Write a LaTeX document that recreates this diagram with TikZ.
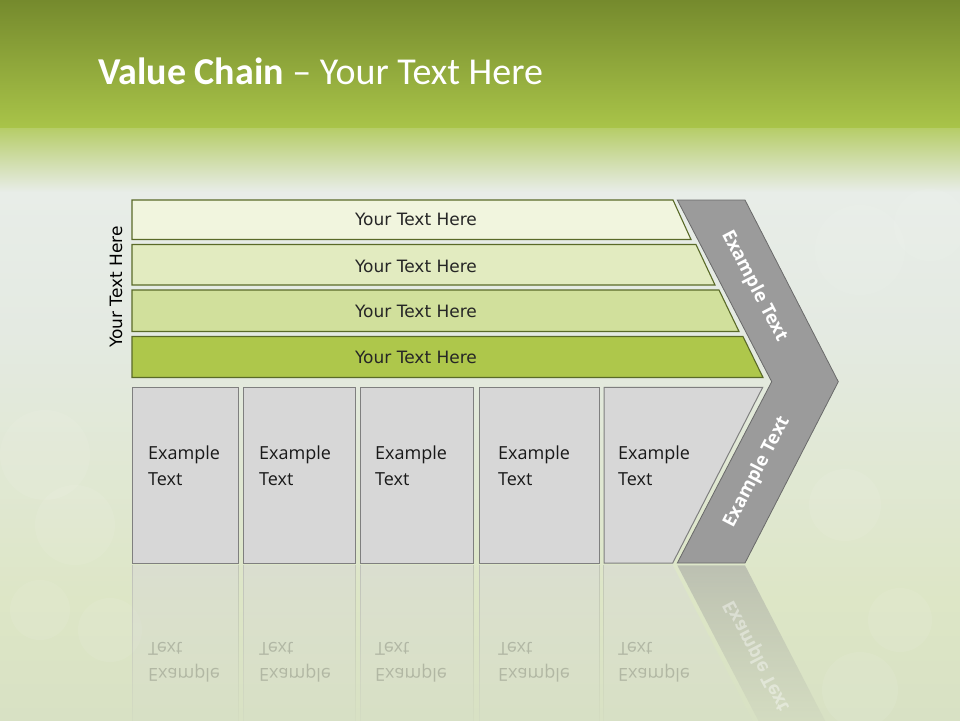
\documentclass[tikz,border=0pt]{standalone}
\usepackage{fontspec}
\newfontfamily\titlefont{Carlito}
\newfontfamily\rowfont{DejaVu Sans}
\newfontfamily\boxfont{Open Sans}
\usetikzlibrary{fadings}
\tikzfading[name=fadedown, top color=transparent!50, bottom color=transparent!100]
\definecolor{bgA}{HTML}{758A2D}
\definecolor{bgB}{HTML}{A9C449}
\definecolor{bgC}{HTML}{B6CD68}
\definecolor{bgD}{HTML}{E8EDE8}
\definecolor{bgE}{HTML}{E4EAE2}
\definecolor{bgF}{HTML}{DDE6C6}
\definecolor{bgG}{HTML}{D8E1C4}
\definecolor{rowA}{HTML}{F1F5DE}
\definecolor{rowB}{HTML}{E2EBC0}
\definecolor{rowC}{HTML}{D1E09C}
\definecolor{rowD}{HTML}{AEC74B}
\definecolor{rowline}{HTML}{5A6A28}
\definecolor{boxfill}{HTML}{D7D7D7}
\definecolor{boxline}{HTML}{7F7F7F}
\definecolor{chevfill}{HTML}{9B9B9B}
\definecolor{chevline}{HTML}{6A6A6A}
\tikzset{
  rowshape/.style={draw=rowline, line width=1.1pt},
  boxshape/.style={draw=boxline, fill=boxfill, line width=1pt},
  chevshape/.style={draw=chevline, fill=chevfill, line width=0.8pt},
  rowtext/.style={font=\rowfont\fontsize{17}{20}\selectfont, text=black!85, inner sep=0pt},
  boxtext/.style={font=\boxfont\fontsize{18}{26}\selectfont, text=black!90, align=left, anchor=west, inner sep=0pt},
  chevtext/.style={font=\boxfont\bfseries\fontsize{18.5}{22}\selectfont, text=white, inner sep=0pt},
  reflbox/.style={fill=boxfill, path fading=fadedown},
  refltext/.style={font=\boxfont\fontsize{18}{26}\selectfont, text=black, opacity=0.18, align=left, anchor=west, inner sep=0pt, yscale=-1},
  bokeh/.style={fill=white, opacity=0.07}
}
\begin{document}
\begin{tikzpicture}[x=1pt,y=-1pt]
\useasboundingbox (0,0) rectangle (960,720);
% background
\fill[top color=bgA, bottom color=bgB] (0,0) rectangle (960,128);
\fill[top color=bgC, bottom color=bgD] (0,128) rectangle (960,192);
\fill[top color=bgD, bottom color=bgE] (0,192) rectangle (960,330);
\fill[top color=bgE, bottom color=bgF] (0,330) rectangle (960,600);
\fill[top color=bgF, bottom color=bgG] (0,600) rectangle (960,720);
\foreach \cx/\cy/\r in {45/455/45, 75/525/40, 110/630/32, 860/250/45, 930/225/36, 845/505/36, 900/620/32, 860/690/38, 40/610/30}
  \fill[bokeh] (\cx,\cy) circle (\r);
% title
\node[anchor=base west, inner sep=0pt, text=white, font=\titlefont\fontsize{38}{44}\selectfont] (title) at (98,84) {\textbf{Value Chain} – Your Text Here};
% rows
\fill[rowshape, fill=rowA] (132,200) -- (673,200) -- (691,239.5) -- (132,239.5) -- cycle;
\fill[rowshape, fill=rowB] (132,244.5) -- (696,244.5) -- (715,285) -- (132,285) -- cycle;
\fill[rowshape, fill=rowC] (132,290) -- (719,290) -- (739,331.5) -- (132,331.5) -- cycle;
\fill[rowshape, fill=rowD] (132,336.5) -- (743,336.5) -- (763,377.5) -- (132,377.5) -- cycle;
\node[rowtext] (r1) at (416,219) {Your Text Here};
\node[rowtext] (r2) at (416,266) {Your Text Here};
\node[rowtext] (r3) at (416,311) {Your Text Here};
\node[rowtext] (r4) at (416,357) {Your Text Here};
\node[rowtext, rotate=90, text=black] (side) at (116,287) {Your Text Here};
% boxes
\draw[boxshape] (132,387.3) rectangle (238.3,563);
\draw[boxshape] (243.3,387.3) rectangle (355.3,563);
\draw[boxshape] (360.3,387.3) rectangle (473.3,563);
\draw[boxshape] (479.3,387.3) rectangle (599.3,563);
\draw[boxshape] (604,387.3) -- (762.7,387.3) -- (672.7,563) -- (604,563) -- cycle;
\node[boxtext] (b1) at (148,466) {Example\\Text};
\node[boxtext] (b2) at (259,466) {Example\\Text};
\node[boxtext] (b3) at (375,466) {Example\\Text};
\node[boxtext] (b4) at (498,466) {Example\\Text};
\node[boxtext] (b5) at (618,466) {Example\\Text};
% chevron
\draw[chevshape] (677.3,200) -- (745,200) -- (838.3,381.7) -- (745,563) -- (677.3,563) -- (771.7,381.7) -- cycle;
\node[chevtext, rotate=-62.5] (c1) at (754,286) {Example Text};
\node[chevtext, rotate=62.5] (c2) at (757,472) {Example Text};
% reflection
\fill[reflbox] (132,565) rectangle (238.3,741);
\fill[reflbox] (243.3,565) rectangle (355.3,741);
\fill[reflbox] (360.3,565) rectangle (473.3,741);
\fill[reflbox] (479.3,565) rectangle (599.3,741);
\fill[reflbox] (604,565) -- (672.7,565) -- (762.7,741) -- (604,741) -- cycle;
\draw[boxline!70, line width=0.8pt, path fading=fadedown]
  (132,565) -- (132,741) (238.3,565) -- (238.3,741)
  (243.3,565) -- (243.3,741) (355.3,565) -- (355.3,741)
  (360.3,565) -- (360.3,741) (473.3,565) -- (473.3,741)
  (479.3,565) -- (479.3,741) (599.3,565) -- (599.3,741)
  (604,565) -- (604,741);
\fill[chevfill, path fading=fadedown] (677.3,565.3) -- (745,565.3) -- (838.3,746.3) -- (771.7,746.3) -- cycle;
\node[refltext] (rb1) at (148,662) {Example\\Text};
\node[refltext] (rb2) at (259,662) {Example\\Text};
\node[refltext] (rb3) at (375,662) {Example\\Text};
\node[refltext] (rb4) at (498,662) {Example\\Text};
\node[refltext] (rb5) at (618,662) {Example\\Text};
\node[chevtext, opacity=0.4, rotate=-62.5, yscale=-1] (rc2) at (757,656) {Example Text};
\end{tikzpicture}
\end{document}
